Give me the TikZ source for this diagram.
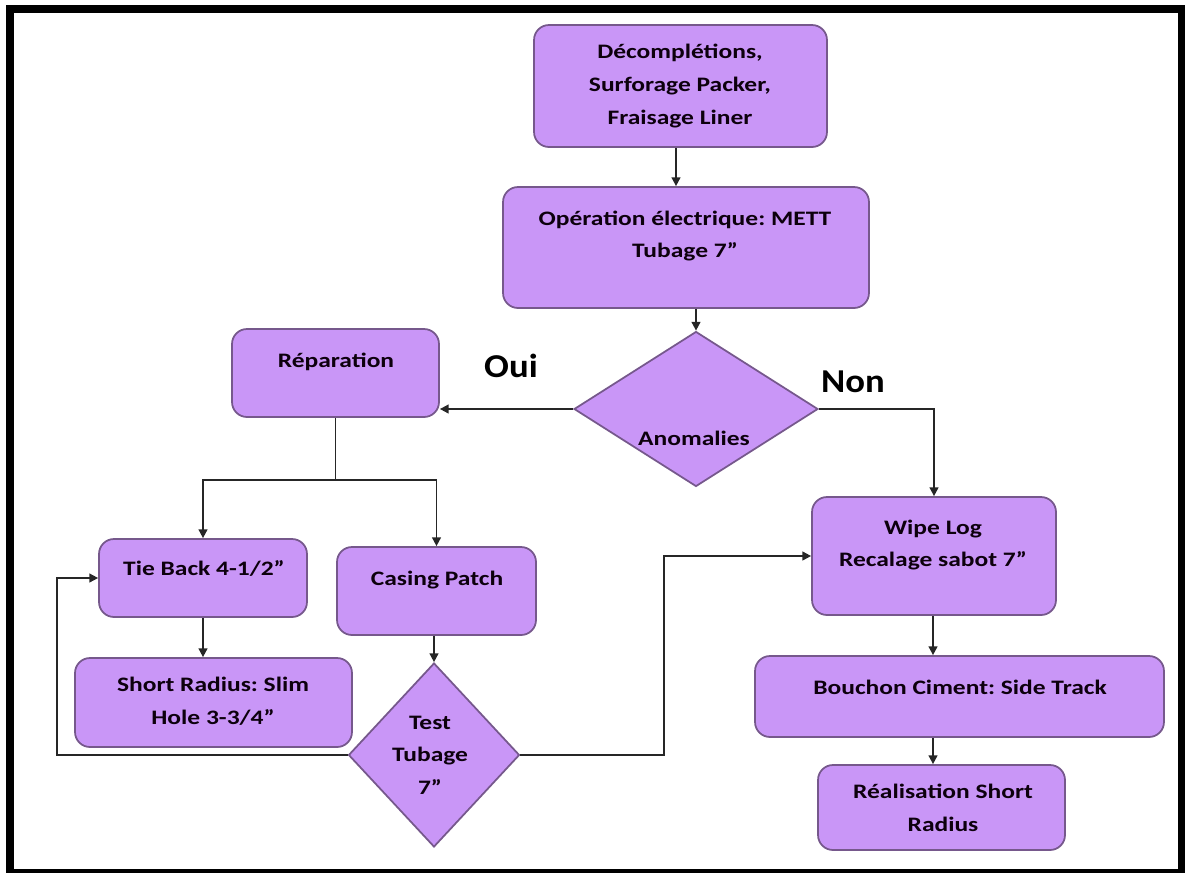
\documentclass[tikz,border=0pt]{standalone}
\usepackage{fontspec}
\setmainfont{Carlito}[FakeStretch=1.24]
\newfontfamily\antwortfont{Carlito}[FakeStretch=1.1]
\frenchspacing
\usetikzlibrary{
  shapes.geometric, % For the decision diamonds
  arrows.meta % For arrow tips
}
\definecolor{lila}{RGB}{201,150,247}
\definecolor{lilarand}{RGB}{118,88,140}

\begin{document}
\begin{tikzpicture}[
      x=0.02cm, y=-0.02cm, % Pixel coordinates
      >={Triangle[length=5pt,width=5pt]}, % Default arrow tip
      box/.style={draw=lilarand, fill=lila, line width=1pt, rounded corners=8.5pt, inner sep=0pt},
      decision/.style={diamond, draw=lilarand, fill=lila, line width=1pt, inner sep=0pt},
      txt/.style={font=\bfseries\fontsize{11.7}{18.6}\selectfont, align=center, text=black!90!violet},
      link/.style={->, line width=1pt, black!85},
      answer/.style={font=\antwortfont\bfseries\fontsize{19}{22}\selectfont},
    ]
    % Rahmen
    \useasboundingbox (0,0) rectangle (1185,872);
    \draw[line width=4.5pt] (10,9) rectangle (1181.5,873);
    % Kästen
    \node[box, minimum width=5.86cm, minimum height=2.44cm] (decomp) at (680.5,86) {};
    \node[box, minimum width=7.32cm, minimum height=2.42cm] (elec) at (686,247.5) {};
    \node[decision, minimum width=4.88cm, minimum height=3.10cm] (anom) at (696,409) {};
    \node[box, minimum width=4.14cm, minimum height=1.76cm] (rep) at (335.5,373) {};
    \node[box, minimum width=4.16cm, minimum height=1.56cm] (tie) at (203,578) {};
    \node[box, minimum width=3.98cm, minimum height=1.76cm] (casing) at (436.5,591) {};
    \node[box, minimum width=5.54cm, minimum height=1.78cm] (slim) at (213.5,702.5) {};
    \node[decision, minimum width=3.42cm, minimum height=3.68cm] (test) at (434,755) {};
    \node[box, minimum width=4.88cm, minimum height=2.36cm] (wipe) at (934,556) {};
    \node[box, minimum width=8.18cm, minimum height=1.62cm] (bouchon) at (959.5,696.5) {};
    \node[box, minimum width=4.94cm, minimum height=1.70cm] (real) at (941.5,807.5) {};
    % Texte
    \node[txt] (decompText) at (680,86) {Décomplétions,\\Surforage Packer,\\Fraisage Liner};
    \node[txt] (elecText) at (685,236) {Opération électrique: METT\\Tubage 7”};
    \node[txt] (anomText) at (694,438) {Anomalies};
    \node[txt] (repText) at (336,362) {Réparation};
    \node[txt] (tieText) at (204,568) {Tie Back 4-1/2”};
    \node[txt] (casingText) at (437,580) {Casing Patch};
    \node[txt] (slimText) at (213,701) {Short Radius: Slim\\Hole 3-3/4”};
    \node[txt] (testText) at (430,755) {Test\\Tubage\\7”};
    \node[txt] (wipeText) at (933,545) {Wipe Log\\Recalage sabot 7”};
    \node[txt] (bouchonText) at (960,687) {Bouchon Ciment: Side Track};
    \node[txt] (realText) at (943,808) {Réalisation Short\\Radius};
    % Antworten
    \node[answer] (oui) at (511,366) {Oui};
    \node[answer] (non) at (853,382) {Non};
    % Hilfspunkte
    \coordinate (split) at (335.5,480);
    \coordinate (loopL) at (57,755);
    \coordinate (loopR) at (664,755);
    % Pfeile
    \draw[link] (decomp.south -| 676,0) -- (elec.north -| 676,0);
    \draw[link] (elec.south -| anom.north) -- (anom.north);
    \draw[link] (anom.west) -- (anom.west -| rep.east);
    \draw[link] (anom.east) -| (wipe.north);
    \draw[line width=1pt, black!85] (rep.south) -- (split);
    \draw[link] (split) -| (tie.north);
    \draw[link] (split) -| (casing.north);
    \draw[link] (tie.south) -- (tie.south |- slim.north);
    \draw[link] (casing.south -| test.north) -- (test.north);
    \draw[link] (test.west) -- (loopL) |- (tie.west);
    \draw[link] (test.east) -- (loopR) |- (wipe.west);
    \draw[link] (wipe.south -| 933,0) -- (bouchon.north -| 933,0);
    \draw[link] (bouchon.south -| 933,0) -- (real.north -| 933,0);
\end{tikzpicture}
\end{document}
